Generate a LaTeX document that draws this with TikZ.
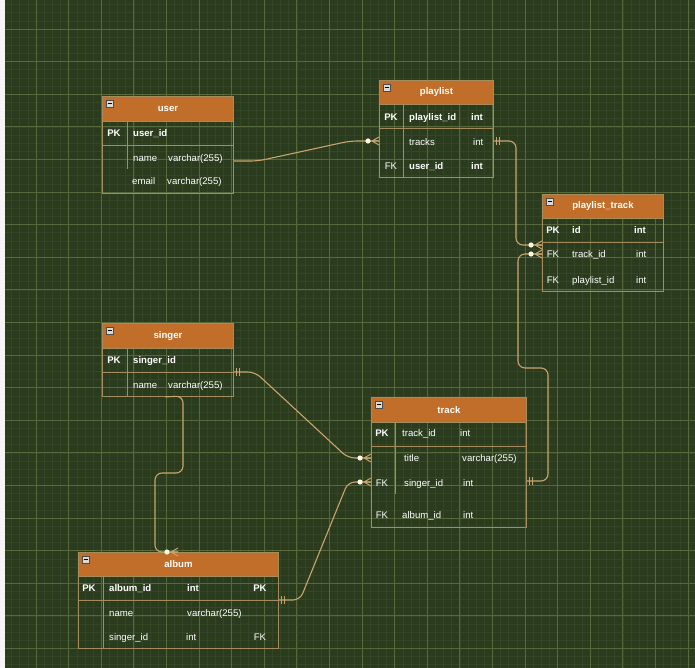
\documentclass[tikz,border=0pt]{standalone}
\usepackage{fontspec}
\setmainfont{Liberation Sans}
\definecolor{bgc}{RGB}{43,59,30}
\definecolor{minorc}{RGB}{53,70,39}
\definecolor{majorc}{RGB}{86,104,60}
\definecolor{hdrc}{RGB}{193,110,42}
\definecolor{tblline}{RGB}{165,140,92}
\definecolor{connc}{RGB}{200,165,110}
\definecolor{dotc}{RGB}{255,250,230}
\newcommand\ersize{\fontsize{9.6}{11}\selectfont}
\tikzset{
  minorline/.style={draw=minorc,line width=0.5},
  majorline/.style={draw=majorc,line width=0.8},
  tbl/.style 2 args={draw=tblline,line width=0.9,inner sep=0,anchor=north west,
    minimum width=#1,minimum height=#2},
  hdr/.style 2 args={tbl={#1}{#2},fill=hdrc,text=white,font=\ersize\bfseries},
  sepline/.style={draw=tblline,line width=0.9},
  icon/.style={draw=black!70,fill=black!15,line width=0.4,minimum size=6.5,inner sep=0,
    path picture={\draw[black,line width=0.8]
      ([xshift=-2pt]path picture bounding box.center) --
      ([xshift=2pt]path picture bounding box.center);}},
  txt/.style={text=white,inner sep=0,font=\ersize,anchor=west,text height=6.8pt,text depth=0pt},
  btxt/.style={txt,font=\ersize\bfseries},
  ctxt/.style={txt,anchor=center},
  cbtxt/.style={btxt,anchor=center},
  conn/.style={draw=connc,line width=1.1,rounded corners=7},
  % zero-or-many end: entity lies on the +x side of the origin
  zmany/.pic={
    \draw[draw=connc,line width=1] (-7,0) -- (0,-4) (-7,0) -- (0,4) (-7,0) -- (0,0);
    \fill[dotc] (-11,0) circle (2.6);
  },
  % exactly-one end: entity lies on the -x side of the origin
  onemark/.pic={
    \draw[draw=connc,line width=1] (3,-4) -- (3,4) (6,-4) -- (6,4);
  }
}
\begin{document}
\begin{tikzpicture}[x=1pt,y=-1pt]
\useasboundingbox (0,0) rectangle (695,668);
% canvas and grid
\fill[bgc] (0,0) rectangle (695,668);
\foreach \i in {0,...,85} \path[minorline] ({3.4+8.15*\i},0) -- ++(0,668);
\foreach \j in {0,...,81} \path[minorline] (0,{4.55+8.15*\j}) -- ++(695,0);
\foreach \i in {0,...,21} \path[majorline] ({3.4+32.6*\i},0) -- ++(0,668);
\foreach \j in {0,...,19} \path[majorline] (0,{29+32.6*\j}) -- ++(695,0);
\fill[black!4] (0,0) rectangle (4.5,668);

% ---------- user ----------
\node[tbl={131}{97}] (user) at (102,96) {};
\node[hdr={131}{25}] (user-h) at (102,96) {user};
\node[icon] (user-i) at (109.5,103.5) {};
\path[sepline] (102,145) -- (233,145) (127,121) -- (127,169);
\node[cbtxt] (user-pk) at (114,133) {PK};
\node[btxt] (user-c1) at (133,133) {user\_id};
\node[txt] (user-c2) at (133,158) {name};
\node[txt] (user-t2) at (168,158) {varchar(255)};
\node[txt] (user-c3) at (132,181) {email};
\node[txt] (user-t3) at (167,181) {varchar(255)};

% ---------- playlist ----------
\node[tbl={114}{97}] (playlist) at (379,80) {};
\node[hdr={114}{24}] (playlist-h) at (379,80) {playlist};
\node[icon] (playlist-i) at (386.5,87.5) {};
\path[sepline] (379,128) -- (493,128) (403,104) -- (403,177);
\node[cbtxt] (playlist-pk) at (391,117) {PK};
\node[btxt] (playlist-c1) at (409,117) {playlist\_id};
\node[btxt] (playlist-t1) at (471,117) {int};
\node[txt] (playlist-c2) at (409,142) {tracks};
\node[txt] (playlist-t2) at (473,142) {int};
\node[ctxt] (playlist-fk) at (391,166) {FK};
\node[btxt] (playlist-c3) at (409,166) {user\_id};
\node[btxt] (playlist-t3) at (471,166) {int};

% ---------- playlist_track ----------
\node[tbl={121}{97}] (ptrack) at (542,194) {};
\node[hdr={121}{24}] (ptrack-h) at (542,194) {playlist\_track};
\node[icon] (ptrack-i) at (549.5,201.5) {};
\path[sepline] (542,242) -- (663,242);
\node[cbtxt] (ptrack-pk) at (553,230) {PK};
\node[btxt] (ptrack-c1) at (572,230) {id};
\node[btxt] (ptrack-t1) at (634,230) {int};
\node[ctxt] (ptrack-fk1) at (553,254) {FK};
\node[txt] (ptrack-c2) at (572,254) {track\_id};
\node[txt] (ptrack-t2) at (636,254) {int};
\node[ctxt] (ptrack-fk2) at (553,280) {FK};
\node[txt] (ptrack-c3) at (572,280) {playlist\_id};
\node[txt] (ptrack-t3) at (636,280) {int};

% ---------- singer ----------
\node[tbl={131}{73}] (singer) at (102,323) {};
\node[hdr={131}{25}] (singer-h) at (102,323) {singer};
\node[icon] (singer-i) at (109.5,330.5) {};
\path[sepline] (102,372) -- (233,372) (127,348) -- (127,396);
\node[cbtxt] (singer-pk) at (114,360) {PK};
\node[btxt] (singer-c1) at (133,360) {singer\_id};
\node[txt] (singer-c2) at (133,385) {name};
\node[txt] (singer-t2) at (168,385) {varchar(255)};

% ---------- track ----------
\node[tbl={155}{130}] (track) at (371,397) {};
\node[hdr={155}{25}] (track-h) at (371,397) {track};
\node[icon] (track-i) at (378.5,404.5) {};
\path[sepline] (371,446) -- (526,446) (395,422) -- (395,494);
\node[cbtxt] (track-pk) at (382,433) {PK};
\node[txt] (track-c1) at (402,433) {track\_id};
\node[txt] (track-t1) at (460,433) {int};
\node[txt] (track-c2) at (404,458) {title};
\node[txt] (track-t2) at (462,458) {varchar(255)};
\node[ctxt] (track-fk1) at (382,483) {FK};
\node[txt] (track-c3) at (404,483) {singer\_id};
\node[txt] (track-t3) at (463,483) {int};
\node[ctxt] (track-fk2) at (382,515) {FK};
\node[txt] (track-c4) at (402,515) {album\_id};
\node[txt] (track-t4) at (463,515) {int};

% ---------- album ----------
\node[tbl={200}{96}] (album) at (78,552) {};
\node[hdr={200}{24}] (album-h) at (78,552) {album};
\node[icon] (album-i) at (85.5,559.5) {};
\path[sepline] (78,600) -- (278,600) (103,576) -- (103,648);
\node[cbtxt] (album-pk) at (89,588) {PK};
\node[btxt] (album-c1) at (109,588) {album\_id};
\node[btxt] (album-t1) at (187,588) {int};
\node[cbtxt] (album-k1) at (260,588) {PK};
\node[txt] (album-c2) at (109,613) {name};
\node[txt] (album-t2) at (187,613) {varchar(255)};
\node[txt] (album-c3) at (109,637) {singer\_id};
\node[txt] (album-t3) at (186,637) {int};
\node[ctxt] (album-k3) at (260,637) {FK};

% ---------- relationships ----------
% user -> playlist
\draw[conn] (user.east |- 0,161) -- (258,161) -- (350,141) -- (playlist.west |- 0,141);
\pic at (playlist.west |- 0,141) {zmany};
% playlist -> playlist_track
\draw[conn] (playlist.east |- 0,141) -- (516,141) -- (516,245) -- (ptrack.west |- 0,245);
\pic at (playlist.east |- 0,141) {onemark};
\pic at (ptrack.west |- 0,245) {zmany};
% track -> playlist_track
\draw[conn] (track.east |- 0,481) -- (548,481) -- (548,368) -- (518,368) -- (518,254) -- (ptrack.west |- 0,254);
\pic at (track.east |- 0,481) {onemark};
\pic at (ptrack.west |- 0,254) {zmany};
% singer -> track
\draw[conn] (singer.east |- 0,372) -- (255,372) -- (348,458) -- (track.west |- 0,458);
\pic at (singer.east |- 0,372) {onemark};
\pic at (track.west |- 0,458) {zmany};
% album -> track
\draw[conn] (album.east |- 0,600) -- (300,600) -- (348,482) -- (track.west |- 0,482);
\pic at (album.east |- 0,600) {onemark};
\pic at (track.west |- 0,482) {zmany};
% singer -> album
\draw[conn] (singer.south -| 165,0) -- (183,396) -- (183,473) -- (155,473) -- (155,552) -- (album.north -| 178,0);
\pic at (album.north -| 178,0) {zmany};
\end{tikzpicture}
\end{document}
